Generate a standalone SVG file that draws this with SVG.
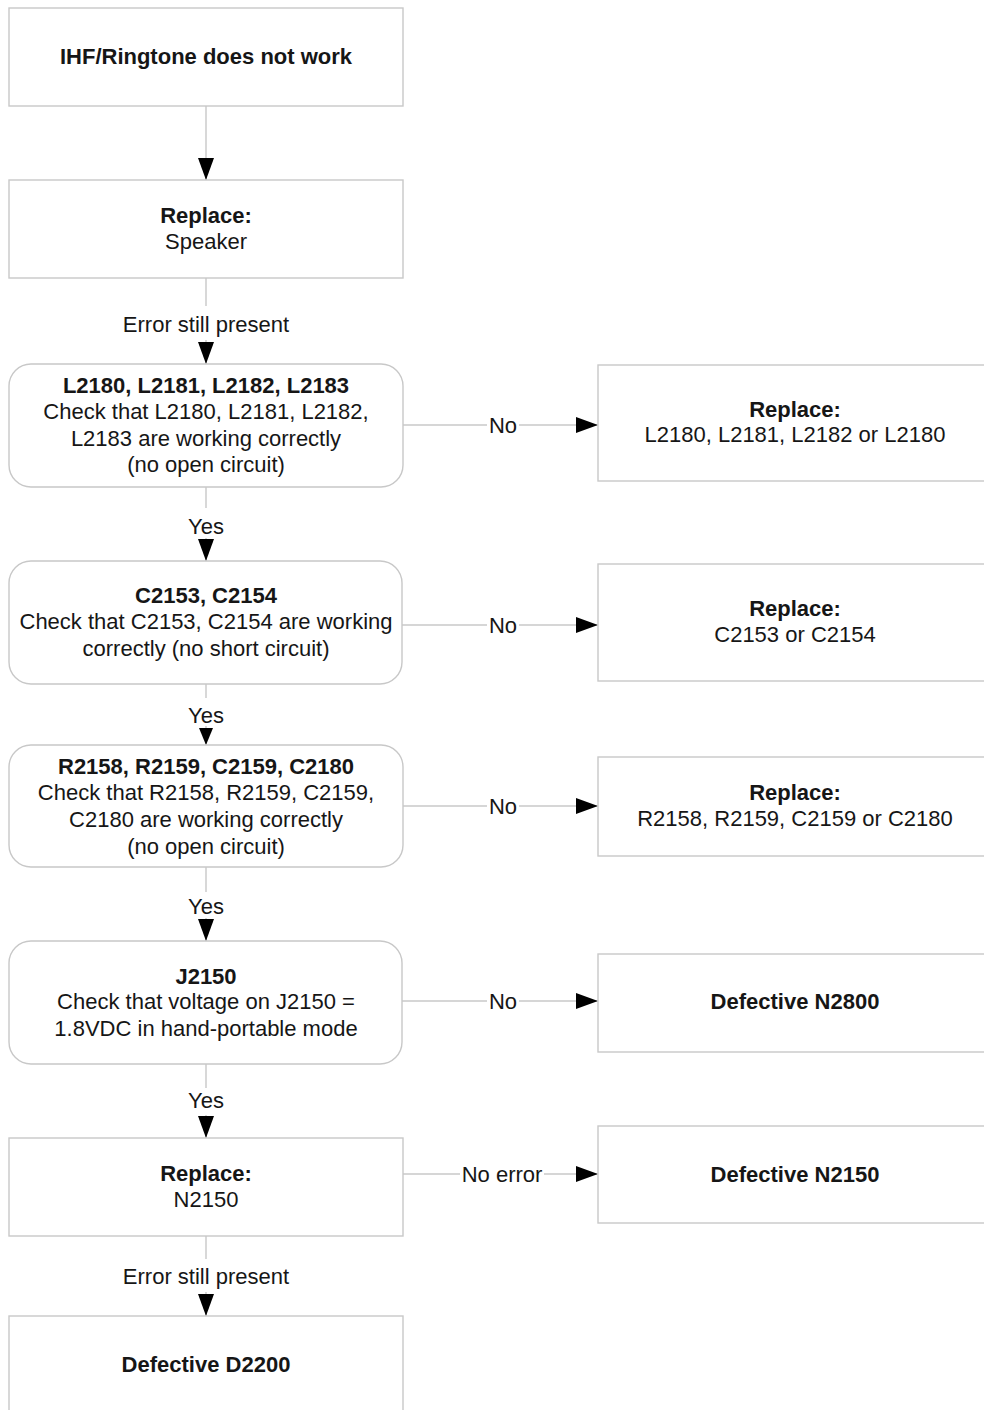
<svg xmlns="http://www.w3.org/2000/svg" width="984" height="1410" viewBox="0 0 984 1410">
<style>
.box{fill:#fff;stroke:#c8c8c8;stroke-width:1.4}
.ln{fill:none;stroke:#c8c8c8;stroke-width:1.4}
.arr{fill:none;stroke:#c8c8c8;stroke-width:1.4;marker-end:url(#ah)}
.arr2{fill:none;stroke:#c8c8c8;stroke-width:1.4;marker-end:url(#ah2)}
text{font-family:"Liberation Sans",Arial,sans-serif;font-size:22px;fill:#161616;text-anchor:middle}
.b{font-weight:bold}
</style>
<defs>
<marker id="ah" markerUnits="userSpaceOnUse" markerWidth="22" markerHeight="16" refX="22" refY="8" orient="auto" viewBox="0 0 22 16">
<path d="M0,0 L22,8 L0,16 Z" fill="#000"/>
</marker>
<marker id="ah2" markerUnits="userSpaceOnUse" markerWidth="17" markerHeight="14" refX="17" refY="7" orient="auto" viewBox="0 0 17 14">
<path d="M0,0 L17,7 L0,14 Z" fill="#000"/>
</marker>
</defs>
<rect width="984" height="1410" fill="#fff"/>
<g id="connectors">
<line class="arr" x1="206" y1="106" x2="206" y2="180"/>
<line class="ln" x1="206" y1="278" x2="206" y2="306"/>
<line class="arr" x1="206" y1="340" x2="206" y2="364"/>
<text x="206" y="332">Error still present</text>
<line class="ln" x1="206" y1="487" x2="206" y2="508"/>
<line class="arr" x1="206" y1="538" x2="206" y2="561"/>
<text x="206" y="534">Yes</text>
<line class="ln" x1="206" y1="684" x2="206" y2="698"/>
<line class="arr2" x1="206" y1="726" x2="206" y2="745"/>
<text x="206" y="723">Yes</text>
<line class="ln" x1="206" y1="867" x2="206" y2="892"/>
<line class="arr" x1="206" y1="918" x2="206" y2="941"/>
<text x="206" y="914">Yes</text>
<line class="ln" x1="206" y1="1064" x2="206" y2="1088"/>
<line class="arr" x1="206" y1="1115" x2="206" y2="1138"/>
<text x="206" y="1108">Yes</text>
<line class="ln" x1="206" y1="1236" x2="206" y2="1259"/>
<line class="arr" x1="206" y1="1292" x2="206" y2="1316"/>
<text x="206" y="1284">Error still present</text>
<line class="ln" x1="403" y1="425" x2="487" y2="425"/>
<line class="arr" x1="519" y1="425" x2="598" y2="425"/>
<text x="503" y="433">No</text>
<line class="ln" x1="402" y1="625" x2="487" y2="625"/>
<line class="arr" x1="519" y1="625" x2="598" y2="625"/>
<text x="503" y="633">No</text>
<line class="ln" x1="403" y1="806" x2="487" y2="806"/>
<line class="arr" x1="519" y1="806" x2="598" y2="806"/>
<text x="503" y="814">No</text>
<line class="ln" x1="402" y1="1001" x2="487" y2="1001"/>
<line class="arr" x1="519" y1="1001" x2="598" y2="1001"/>
<text x="503" y="1009">No</text>
<line class="ln" x1="403" y1="1174" x2="460" y2="1174"/>
<line class="arr" x1="544" y1="1174" x2="598" y2="1174"/>
<text x="502" y="1182">No error</text>
</g>
<g id="n1"><rect class="box" x="9" y="8" width="394" height="98"/><text class="b" x="206" y="64">IHF/Ringtone does not work</text></g>
<g id="n2"><rect class="box" x="9" y="180" width="394" height="98"/><text class="b" x="206" y="223">Replace:</text><text x="206" y="249">Speaker</text></g>
<g id="n3"><rect class="box" x="9" y="364" width="394" height="123" rx="22"/><text class="b" x="206" y="393">L2180, L2181, L2182, L2183</text><text x="206" y="419">Check that L2180, L2181, L2182,</text><text x="206" y="446">L2183 are working correctly</text><text x="206" y="472">(no open circuit)</text></g>
<g id="n3r"><rect class="box" x="598" y="365" width="394" height="116"/><text class="b" x="795" y="417">Replace:</text><text x="795" y="442">L2180, L2181, L2182 or L2180</text></g>
<g id="n4"><rect class="box" x="9" y="561" width="393" height="123" rx="22"/><text class="b" x="206" y="603">C2153, C2154</text><text x="206" y="629">Check that C2153, C2154 are working</text><text x="206" y="656">correctly (no short circuit)</text></g>
<g id="n4r"><rect class="box" x="598" y="564" width="394" height="117"/><text class="b" x="795" y="616">Replace:</text><text x="795" y="642">C2153 or C2154</text></g>
<g id="n5"><rect class="box" x="9" y="745" width="394" height="122" rx="22"/><text class="b" x="206" y="774">R2158, R2159, C2159, C2180</text><text x="206" y="800">Check that R2158, R2159, C2159,</text><text x="206" y="827">C2180 are working correctly</text><text x="206" y="854">(no open circuit)</text></g>
<g id="n5r"><rect class="box" x="598" y="757" width="394" height="99"/><text class="b" x="795" y="800">Replace:</text><text x="795" y="826">R2158, R2159, C2159 or C2180</text></g>
<g id="n6"><rect class="box" x="9" y="941" width="393" height="123" rx="22"/><text class="b" x="206" y="984">J2150</text><text x="206" y="1009">Check that voltage on J2150 =</text><text x="206" y="1036">1.8VDC in hand-portable mode</text></g>
<g id="n6r"><rect class="box" x="598" y="954" width="394" height="98"/><text class="b" x="795" y="1009">Defective N2800</text></g>
<g id="n7"><rect class="box" x="9" y="1138" width="394" height="98"/><text class="b" x="206" y="1181">Replace:</text><text x="206" y="1207">N2150</text></g>
<g id="n7r"><rect class="box" x="598" y="1126" width="394" height="97"/><text class="b" x="795" y="1182">Defective N2150</text></g>
<g id="n8"><rect class="box" x="9" y="1316" width="394" height="110"/><text class="b" x="206" y="1372">Defective D2200</text></g>
</svg>
